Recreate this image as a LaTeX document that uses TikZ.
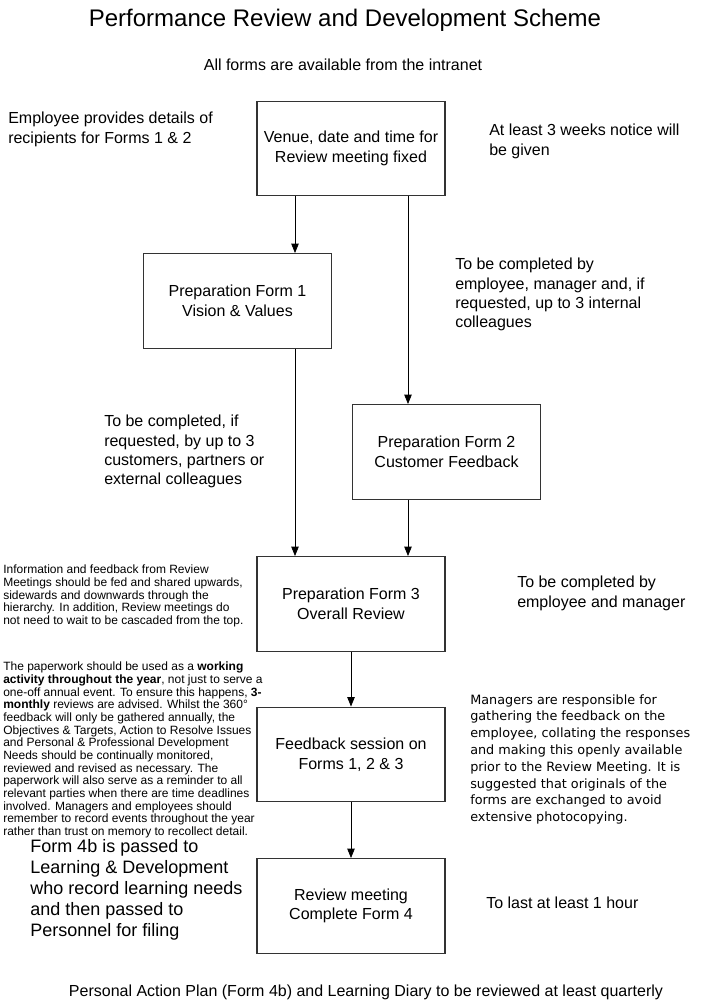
\documentclass[tikz,border=0pt]{standalone}
\usepackage{fontspec}
\setmainfont{Liberation Sans}
\newfontfamily\verdfont{DejaVu Sans}
\usetikzlibrary{arrows.meta,positioning,calc}
\definecolor{boxc}{HTML}{333333}
\tikzset{
  stage/.style={rectangle, draw=boxc, line width=0.9pt, minimum width=141pt, minimum height=71pt, inner sep=0pt, align=center, font=\fontsize{12}{14.7}\selectfont},
  note/.style={anchor=north west, inner sep=0pt, align=left, font=\fontsize{12}{14.5}\selectfont},
  bignote/.style={note, font=\fontsize{13.5}{15.75}\selectfont},
  small/.style={note, font=\fontsize{9}{9.5}\selectfont},
  verd/.style={note, font=\verdfont\fontsize{9.6}{12.6}\selectfont},
  flow/.style={-{Triangle[length=7pt,width=5.5pt]}, line width=0.6pt},
}

\begin{document}
\begin{tikzpicture}[x=0.75pt, y=-0.75pt]
  \path[use as bounding box, fill=white] (0,0) rectangle (703,1006);
  % titles
  \node[anchor=base, font=\fontsize{18}{21}\selectfont] (title) at (345,27) {Performance Review and Development Scheme};
  \node[anchor=base, font=\fontsize{12}{14}\selectfont] (intranet) at (343,70) {All forms are available from the intranet};
  \node[anchor=base, font=\fontsize{12}{14}\selectfont] (quarterly) at (366,996) {Personal Action Plan (Form 4b) and Learning Diary to be reviewed at least quarterly};
  % flow boxes
  \node[stage] (venue)    at (351,148.5) {Venue, date and time for\\Review meeting fixed};
  \node[stage] (form1)    at (237.5,301) {Preparation Form 1\\Vision \& Values};
  \node[stage] (form2)    at (446.5,452) {Preparation Form 2\\Customer Feedback};
  \node[stage] (form3)    at (351,604)   {Preparation Form 3\\Overall Review};
  \node[stage] (feedback) at (351,754.5) {Feedback session on\\Forms 1, 2 \& 3};
  \node[stage] (review)   at (351,906)   {Review meeting\\Complete Form 4};
  % lanes
  \coordinate (laneL) at (295,0);
  \coordinate (laneR) at (408,0);
  \draw[flow] (venue.south -| laneL) -- (form1.north -| laneL);
  \draw[flow] (venue.south -| laneR) -- (form2.north -| laneR);
  \draw[flow] (form1.south -| laneL) -- (form3.north -| laneL);
  \draw[flow] (form2.south -| laneR) -- (form3.north -| laneR);
  \draw[flow] (form3) -- (feedback);
  \draw[flow] (feedback) -- (review);
  % side notes
  \node[note] (recip) at (8,112) {Employee provides details of\\recipients for Forms 1 \& 2};
  \node[note] (notice) at (489,124) {At least 3 weeks notice will\\be given};
  \node[note] (internal) at (455,258) {To be completed by\\employee, manager and, if\\requested, up to 3 internal\\colleagues};
  \node[note] (external) at (104,415) {To be completed, if\\requested, by up to 3\\customers, partners or\\external colleagues};
  \node[note] (bymgr) at (517,576) {To be completed by\\employee and manager};
  \node[note] (hour) at (486,897) {To last at least 1 hour};
  \node[bignote] (filing) at (30,839) {Form 4b is passed to\\Learning \& Development\\who record learning needs\\and then passed to\\Personnel for filing};
  \node[small] (cascade) at (3,565) {Information and feedback from Review\\Meetings should be fed and shared upwards,\\sidewards and downwards through the\\hierarchy.  In addition, Review meetings do\\not need to wait to be cascaded from the top.};
  \node[small] (paperwork) at (3,662) {The paperwork should be used as a \textbf{working}\\\textbf{activity throughout the year}, not just to serve a\\one-off annual event. To ensure this happens, \textbf{3-}\\\textbf{monthly} reviews are advised.  Whilst the 360°\\feedback will only be gathered annually, the\\Objectives \& Targets, Action to Resolve Issues\\and Personal \& Professional Development\\Needs should be continually monitored,\\reviewed and revised as necessary. The\\paperwork will also serve as a reminder to all\\relevant parties when there are time deadlines\\involved. Managers and employees should\\remember to record events throughout the year\\rather than trust on memory to recollect detail.};
  \node[verd] (managers) at (470,694) {Managers are responsible for\\gathering the feedback on the\\employee, collating the responses\\and making this openly available\\prior to the Review Meeting.  It is\\suggested that originals of the\\forms are exchanged to avoid\\extensive photocopying.};
\end{tikzpicture}
\end{document}
